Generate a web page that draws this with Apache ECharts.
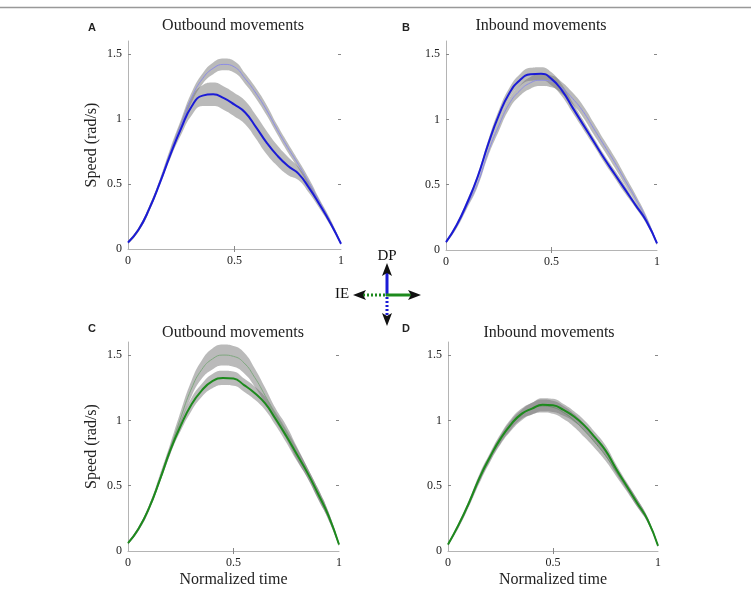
<!DOCTYPE html>
<html><head><meta charset="utf-8">
<script src="https://cdn.jsdelivr.net/npm/echarts@6/dist/echarts.min.js"></script>
<style>html,body{margin:0;padding:0;background:#fff}#c{width:751px;height:598px}</style>
</head><body><div id="c"></div>
<script>
// Normalized time samples (x categories)
const timePoints = ['0','0.05','0.1','0.15','0.2','0.25','0.3','0.35','0.4','0.45','0.5','0.55','0.6','0.65','0.7','0.75','0.8','0.85','0.9','0.95','1'];
const yTicks = [0, 0.5, 1, 1.5];
const titles = ['Outbound movements', 'Inbound movements', 'Outbound movements', 'Inbound movements'];
const panelLetters = ['A', 'B', 'C', 'D'];

// Panel A (DP, outbound)
const aMain       = [0.05,0.15,0.31,0.51,0.73,0.93,1.10,1.18,1.19,1.16,1.11,1.05,0.94,0.82,0.72,0.64,0.58,0.47,0.34,0.20,0.04];
const aMainSpread = [0.01,0.015,0.02,0.02,0.03,0.05,0.07,0.08,0.09,0.09,0.09,0.09,0.09,0.09,0.08,0.07,0.05,0.04,0.03,0.02,0.01];
const aAlt        = [0.05,0.15,0.31,0.52,0.75,0.96,1.17,1.31,1.39,1.42,1.40,1.31,1.20,1.07,0.92,0.78,0.65,0.51,0.36,0.21,0.04];
const aAltSpread  = [0.01,0.015,0.02,0.02,0.03,0.04,0.04,0.04,0.045,0.045,0.045,0.04,0.04,0.04,0.035,0.035,0.03,0.03,0.02,0.02,0.01];

// Panel B (DP, inbound)
const bMain       = [0.06,0.19,0.36,0.56,0.81,1.03,1.20,1.30,1.345,1.35,1.31,1.22,1.09,0.96,0.83,0.70,0.58,0.46,0.34,0.22,0.05];
const bMainSpread = [0.01,0.015,0.02,0.02,0.03,0.04,0.04,0.045,0.05,0.05,0.05,0.045,0.04,0.035,0.03,0.03,0.03,0.03,0.02,0.02,0.01];
const bAlt        = [0.06,0.18,0.34,0.51,0.75,0.95,1.12,1.22,1.28,1.30,1.29,1.24,1.16,1.06,0.93,0.80,0.67,0.53,0.39,0.24,0.05];
const bAltSpread  = [0.01,0.015,0.02,0.025,0.03,0.04,0.04,0.04,0.045,0.045,0.045,0.045,0.045,0.045,0.045,0.04,0.04,0.035,0.03,0.02,0.01];

// Panel C (IE, outbound)
const cMain       = [0.06,0.17,0.33,0.54,0.77,0.96,1.12,1.23,1.30,1.325,1.32,1.27,1.21,1.13,1.01,0.88,0.74,0.60,0.44,0.27,0.05];
const cMainSpread = [0.01,0.015,0.02,0.02,0.03,0.04,0.05,0.05,0.055,0.055,0.055,0.05,0.05,0.05,0.05,0.05,0.05,0.04,0.04,0.03,0.01];
const cAlt        = [0.06,0.17,0.33,0.55,0.78,1.02,1.24,1.39,1.47,1.50,1.49,1.44,1.33,1.19,1.04,0.91,0.75,0.60,0.44,0.27,0.05];
const cAltSpread  = [0.01,0.015,0.02,0.03,0.04,0.05,0.06,0.07,0.08,0.08,0.08,0.08,0.07,0.06,0.05,0.05,0.05,0.04,0.04,0.03,0.01];

// Panel D (IE, inbound)
const dMain       = [0.05,0.20,0.37,0.56,0.72,0.86,0.97,1.05,1.09,1.12,1.115,1.08,1.03,0.96,0.87,0.77,0.63,0.50,0.37,0.24,0.04];
const dMainSpread = [0.01,0.015,0.02,0.03,0.03,0.035,0.04,0.04,0.045,0.05,0.05,0.045,0.04,0.04,0.04,0.04,0.035,0.03,0.03,0.02,0.01];
const dAlt        = [0.05,0.19,0.36,0.55,0.71,0.85,0.96,1.04,1.09,1.11,1.10,1.06,1.00,0.92,0.83,0.73,0.61,0.49,0.37,0.24,0.04];
const dAltSpread  = [0.01,0.015,0.02,0.03,0.03,0.035,0.04,0.04,0.045,0.05,0.05,0.05,0.05,0.05,0.045,0.04,0.035,0.03,0.03,0.02,0.01];

const panels = [
  {main: aMain, mainSpread: aMainSpread, alt: aAlt, altSpread: aAltSpread, mainColor: '#1b1bd6', altColor: '#8c8ce6'},
  {main: bMain, mainSpread: bMainSpread, alt: bAlt, altSpread: bAltSpread, mainColor: '#1b1bd6', altColor: '#8c8ce6'},
  {main: cMain, mainSpread: cMainSpread, alt: cAlt, altSpread: cAltSpread, mainColor: '#1d8a1d', altColor: '#7fa87f'},
  {main: dMain, mainSpread: dMainSpread, alt: dAlt, altSpread: dAltSpread, mainColor: '#1d8a1d', altColor: '#6f8f6f'}
];

const grids = [
  {left: 128, top: 41, width: 213, height: 208},
  {left: 446, top: 41, width: 211, height: 209},
  {left: 128, top: 342, width: 211, height: 209},
  {left: 448, top: 342, width: 210, height: 209}
];
const titleX = [233, 541, 233, 549];
const titleY = [18, 18, 325, 325];
const letterX = [88, 402, 88, 402];
const letterY = [22, 22, 323, 323];

const serif = 'Liberation Serif';
const axisGray = '#b4b4b4';
const bandColor = 'rgba(118,118,118,0.5)';

const xAxis = [], yAxis = [], series = [], title = [];
grids.forEach((g, i) => {
  const bottomRow = i >= 2;
  xAxis.push({
    type: 'category', gridIndex: i, data: timePoints, boundaryGap: false,
    name: bottomRow ? 'Normalized time' : '', nameLocation: 'middle', nameGap: 21,
    nameTextStyle: {fontFamily: serif, fontSize: 16, color: '#222'},
    axisLine: {lineStyle: {color: axisGray}},
    axisTick: {inside: true, length: 3, lineStyle: {color: '#888'}, interval: (idx) => idx === 10},
    axisLabel: {fontFamily: serif, fontSize: 12, color: '#222', margin: 6,
      interval: (idx) => idx % 10 === 0},
    splitLine: {show: false}
  });
  xAxis.push({
    type: 'category', gridIndex: i, data: timePoints, boundaryGap: false, position: 'top',
    axisLine: {show: false},
    axisTick: {inside: true, length: 3, lineStyle: {color: '#888'}, interval: (idx) => idx === 10},
    axisLabel: {show: false}, splitLine: {show: false}
  });
  yAxis.push({
    type: 'value', gridIndex: i, min: 0, max: 1.6,
    name: (i % 2 === 0) ? 'Speed (rad/s)' : '', nameLocation: 'middle', nameGap: 28,
    nameTextStyle: {fontFamily: serif, fontSize: 16, color: '#222'},
    axisLine: {show: true, lineStyle: {color: axisGray}},
    axisTick: {show: true, inside: true, length: 3, lineStyle: {color: '#888'}, customValues: [0.5, 1, 1.5]},
    axisLabel: {fontFamily: serif, fontSize: 12, color: '#222', margin: 6, customValues: yTicks,
      formatter: (v) => String(v)},
    splitLine: {show: false}
  });
  yAxis.push({
    type: 'value', gridIndex: i, min: 0, max: 1.6, position: 'right',
    axisLine: {show: false},
    axisTick: {show: true, inside: true, length: 3, lineStyle: {color: '#888'}, customValues: [0.5, 1, 1.5]},
    axisLabel: {show: false}, splitLine: {show: false}
  });

  const p = panels[i];
  const xi = i * 2, yi = i * 2;
  const addBand = (center, spread, key) => {
    series.push({
      type: 'line', xAxisIndex: xi, yAxisIndex: yi, stack: key, smooth: true, symbol: 'none',
      silent: true, lineStyle: {opacity: 0}, data: center.map((v, k) => +(v - spread[k]).toFixed(4))
    });
    series.push({
      type: 'line', xAxisIndex: xi, yAxisIndex: yi, stack: key, smooth: true, symbol: 'none',
      silent: true, lineStyle: {opacity: 0}, areaStyle: {color: bandColor, opacity: 1},
      data: spread.map((s) => +(2 * s).toFixed(4))
    });
  };
  addBand(p.alt, p.altSpread, 'alt' + i);
  addBand(p.main, p.mainSpread, 'main' + i);
  series.push({
    type: 'line', xAxisIndex: xi, yAxisIndex: yi, smooth: true, symbol: 'none', silent: true,
    lineStyle: {color: p.altColor, width: 1}, data: p.alt
  });
  series.push({
    type: 'line', xAxisIndex: xi, yAxisIndex: yi, smooth: true, symbol: 'none', silent: true,
    lineStyle: {color: p.mainColor, width: 2}, data: p.main
  });

  title.push({
    text: titles[i], left: titleX[i], top: titleY[i], textAlign: 'center', padding: 0,
    textStyle: {fontFamily: serif, fontSize: 16, fontWeight: 'normal', color: '#222'}
  });
  title.push({
    text: panelLetters[i], left: letterX[i], top: letterY[i], padding: 0,
    textStyle: {fontFamily: 'Liberation Sans', fontSize: 11, fontWeight: 'bold', color: '#222'}
  });
});

const chart = echarts.init(document.getElementById('c'), null, {renderer: 'canvas'});
chart.setOption({
  backgroundColor: '#fff',
  animation: false,
  title: title,
  grid: grids,
  xAxis: xAxis,
  yAxis: yAxis,
  series: series,
  graphic: [
    {type: 'line', shape: {x1: 0, y1: 7.5, x2: 751, y2: 7.5}, style: {stroke: '#999', lineWidth: 1.5}},
    {type: 'line', shape: {x1: 387, y1: 296, x2: 387, y2: 272}, style: {stroke: '#1b1bd6', lineWidth: 3}},
    {type: 'polygon', shape: {points: [[387, 263], [382, 276], [387, 273], [392, 276]]}, style: {fill: '#111'}},
    {type: 'line', shape: {x1: 387, y1: 297, x2: 387, y2: 317}, style: {stroke: '#1b1bd6', lineWidth: 3, lineDash: [2, 2]}},
    {type: 'polygon', shape: {points: [[387, 326], [382, 313], [387, 316], [392, 313]]}, style: {fill: '#111'}},
    {type: 'line', shape: {x1: 386, y1: 295, x2: 412, y2: 295}, style: {stroke: '#1d8a1d', lineWidth: 3}},
    {type: 'polygon', shape: {points: [[421, 295], [408, 290], [411, 295], [408, 300]]}, style: {fill: '#111'}},
    {type: 'line', shape: {x1: 385, y1: 295, x2: 362, y2: 295}, style: {stroke: '#1d8a1d', lineWidth: 3, lineDash: [2, 2]}},
    {type: 'polygon', shape: {points: [[353, 295], [366, 290], [363, 295], [366, 300]]}, style: {fill: '#111'}},
    {type: 'text', x: 387, y: 256, style: {text: 'DP', fontFamily: serif, fontSize: 15, fill: '#111', align: 'center', verticalAlign: 'middle'}},
    {type: 'text', x: 342, y: 294, style: {text: 'IE', fontFamily: serif, fontSize: 15, fill: '#111', align: 'center', verticalAlign: 'middle'}}
  ]
});
</script>
</body></html>
